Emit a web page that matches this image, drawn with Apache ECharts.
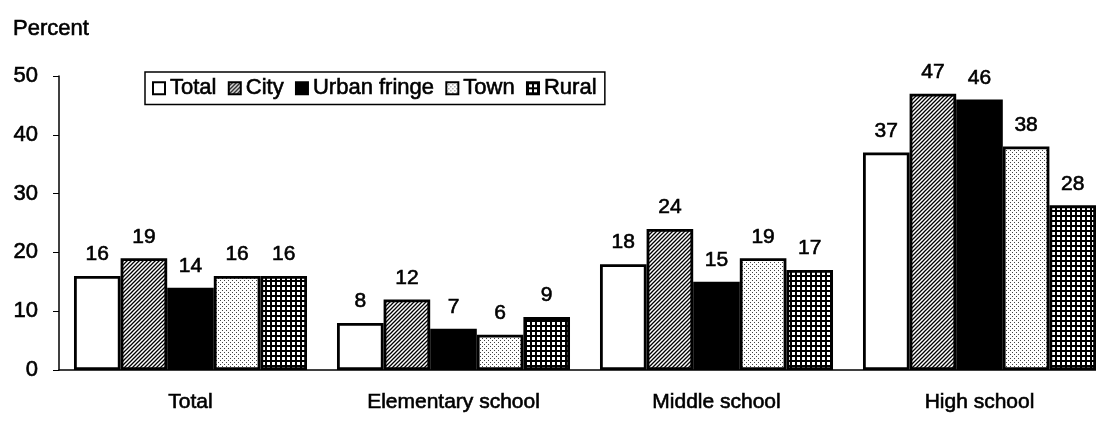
<!DOCTYPE html>
<html>
<head>
<meta charset="utf-8">
<style>
  html, body { margin: 0; padding: 0; background: #fff; }
  #chart { width: 1096px; height: 421px; }
</style>
<script src="https://cdn.jsdelivr.net/npm/echarts@6/dist/echarts.min.js"></script>
</head>
<body>
<div id="chart"></div>
<script>
// Share of schools by level and locale (percent)
const categories = ['Total', 'Elementary school', 'Middle school', 'High school'];
const seriesNames = ['Total', 'City', 'Urban fringe', 'Town', 'Rural'];
const totalValues = [16, 8, 18, 37];
const cityValues = [19, 12, 24, 47];
const urbanFringeValues = [14, 7, 15, 46];
const townValues = [16, 6, 19, 38];
const ruralValues = [16, 9, 17, 28];
const yTicks = [0, 10, 20, 30, 40, 50];

const FONT = '"Liberation Sans", Arial, sans-serif';
const FS = 21;
// a hairline outline gives the glyphs a slightly heavier, print-like weight
const INK = { textBorderColor: '#000', textBorderWidth: 0.6 };

// Small repeating fills for the black-and-white bar styles
function makeTile(size, draw) {
  const c = document.createElement('canvas');
  c.width = size; c.height = size;
  const g = c.getContext('2d');
  g.fillStyle = '#fff';
  g.fillRect(0, 0, size, size);
  draw(g, size);
  return c;
}
const hatchTile = makeTile(4, (g, s) => {
  g.strokeStyle = '#000';
  g.lineWidth = 1.3;
  g.beginPath();
  g.moveTo(-1, s + 1); g.lineTo(s + 1, -1);
  g.moveTo(-1, 1); g.lineTo(1, -1);
  g.moveTo(s - 1, s + 1); g.lineTo(s + 1, s - 1);
  g.stroke();
});
const dotTile = makeTile(4, (g) => {
  g.fillStyle = '#444';
  g.fillRect(0, 0, 1, 1);
  g.fillRect(2, 2, 1, 1);
});
const gridTile = makeTile(5, (g, s) => {
  g.fillStyle = '#000';
  g.fillRect(0, 0, s, 2);
  g.fillRect(0, 0, 2, s);
});

const fills = [
  '#ffffff',
  { image: hatchTile, repeat: 'repeat' },
  '#000000',
  { image: dotTile, repeat: 'repeat' },
  { image: gridTile, repeat: 'repeat' }
];
const values = [totalValues, cityValues, urbanFringeValues, townValues, ruralValues];

const chart = echarts.init(document.getElementById('chart'), null, { renderer: 'canvas' });

chart.setOption({
  animation: false,
  backgroundColor: '#fff',
  textStyle: { fontFamily: FONT, color: '#000' },
  title: {
    text: 'Percent',
    left: 8,
    top: 18,
    padding: [0, 5],
    textStyle: Object.assign({ fontFamily: FONT, fontSize: 22, fontWeight: 'normal', color: '#000' }, INK)
  },
  legend: {
    data: seriesNames,
    left: 145,
    top: 72,
    orient: 'horizontal',
    itemWidth: 12,
    itemHeight: 12,
    itemGap: 11,
    padding: [5, 8, 5, 7],
    borderColor: '#000',
    borderWidth: 1.5,
    textStyle: Object.assign({ fontFamily: FONT, fontSize: 22, color: '#000' }, INK),
    icon: 'rect'
  },
  grid: { left: 59, width: 1052, top: 76, bottom: 51, containLabel: false, outerBoundsMode: 'none' },
  xAxis: {
    type: 'category',
    data: categories,
    axisLine: { show: true, lineStyle: { color: '#000', width: 1.5 } },
    axisTick: { show: false },
    axisLabel: Object.assign({ fontFamily: FONT, fontSize: FS, color: '#000', margin: 22 }, INK)
  },
  yAxis: {
    type: 'value',
    min: yTicks[0],
    max: yTicks[yTicks.length - 1],
    interval: 10,
    axisLine: { show: true, lineStyle: { color: '#000', width: 1.5 } },
    axisTick: { show: true, length: 6, lineStyle: { color: '#000', width: 1 } },
    splitLine: { show: false },
    axisLabel: Object.assign({ fontFamily: FONT, fontSize: 22, color: '#000', margin: 21 }, INK)
  },
  series: seriesNames.map((name, i) => ({
    name: name,
    type: 'bar',
    data: values[i],
    barGap: '0%',
    barCategoryGap: '11.4%',
    itemStyle: { color: fills[i], borderColor: '#000', borderWidth: 2.8 },
    label: Object.assign({
      show: true,
      position: 'top',
      distance: 11,
      fontFamily: FONT,
      fontSize: FS,
      color: '#000'
    }, INK)
  }))
});
</script>
</body>
</html>
